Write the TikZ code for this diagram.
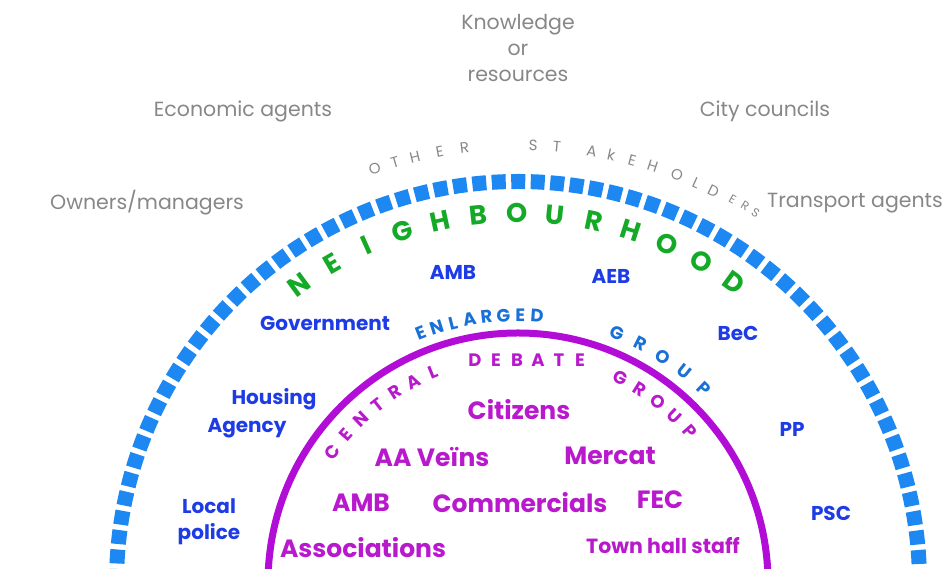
\documentclass[tikz,border=0pt]{standalone}
\usepackage{fontspec}
\setmainfont{Poppins}
\usetikzlibrary{calc}
\definecolor{ringblue}{RGB}{30,136,242}
\definecolor{actorblue}{RGB}{30,60,230}
\definecolor{groupblue}{RGB}{25,112,215}
\definecolor{nbhgreen}{RGB}{20,170,40}
\definecolor{debpurple}{RGB}{185,25,205}
\definecolor{ringpurple}{RGB}{178,12,215}
\definecolor{stakegrey}{RGB}{135,135,135}

\begin{document}
\begin{tikzpicture}[x=1pt,y=1pt,
  stake/.style={text=stakegrey,inner sep=0pt,font=\fontsize{20.5}{26}\selectfont},
  stake letter/.style={text=stakegrey,inner sep=0pt,font=\fontsize{15}{15}\selectfont},
  actor/.style={text=actorblue,inner sep=0pt,align=center,font=\fontsize{20}{26}\selectfont\bfseries},
  nbh letter/.style={text=nbhgreen,inner sep=0pt,font=\fontsize{27}{27}\selectfont\bfseries},
  group letter/.style={text=groupblue,inner sep=0pt,font=\fontsize{18}{18}\selectfont\bfseries},
  deb letter/.style={text=debpurple,inner sep=0pt,font=\fontsize{18}{18}\selectfont\bfseries},
  member/.style={text=debpurple,inner sep=0pt,font=\fontsize{25}{26}\selectfont\bfseries}]
\useasboundingbox (0,0) rectangle (945,569);
\coordinate (hub) at (518,-14);

%rings
\draw[ringblue,line width=15,dash pattern=on 14 off 5.5] (hub) ++(180:401.5) arc[start angle=180,end angle=0,radius=401.5];
\draw[ringpurple,line width=7] (hub) ++(180:250) arc[start angle=180,end angle=0,radius=250];

%other stakeholders
\node[stake,align=center] (know) at (518,521) {Knowledge\\or\\resources};
\node[stake] (econ) at (243,458) {Economic agents};
\node[stake] (city) at (765,458) {City councils};
\node[stake] (owners) at (147,366) {Owners/managers};
\node[stake] (transport) at (855,366) {Transport agents};
\foreach \ch/\ang [count=\i] in {O/109.1,T/106.3,H/103.6,E/100.3,R/97.0,S/88.0,T/84.9,A/80.3,k/77.7,E/74.9,H/72.1,O/68.7,L/66.0,D/63.5}
  \node[stake letter,rotate=\ang-90] (oth\i) at ($(hub)+(\ang:438)$) {\ch};
\foreach \ch/\ang [count=\i] in {E/60.8,R/58.9,S/57.3}
  \node[stake letter,font=\fontsize{12}{12}\selectfont,rotate=\ang-90] (ers\i) at ($(hub)+(\ang:440)$) {\ch};

%neighbourhood
\foreach \ch [count=\i from 0] in {N,E,I,G,H,B,O,U,R,H,O,O,D} {
  \pgfmathsetmacro\ang{126.2-6*\i}
  \node[nbh letter,rotate=\ang-90] (nbh\i) at ($(hub)+(\ang:370)$) {\ch};
}
\node[actor] (ambn) at (453,297) {AMB};
\node[actor] (aeb) at (611,293) {AEB};
\node[actor] (govt) at (325,246) {Government};
\node[actor] (bec) at (738,236) {BeC};
\node[actor] (housing) at (274,170) {Housing};
\node[actor] (agency) at (247,141) {Agency};
\node[actor] (police) at (209,47) {Local\\police};
\node[actor] (pp) at (792,140) {PP};
\node[actor] (psc) at (831,56) {PSC};

%enlarged group
\foreach \ch [count=\i from 0] in {E,N,L,A,R,G,E,D} {
  \pgfmathsetmacro\ang{111.3-3.63*\i}
  \node[group letter,rotate=\ang-90] (enl\i) at ($(hub)+(\ang:268)$) {\ch};
}
\foreach \ch [count=\i from 0] in {G,R,O,U,P} {
  \pgfmathsetmacro\ang{68.4-5.55*\i}
  \node[group letter,rotate=\ang-90] (egr\i) at ($(hub)+(\ang:269)$) {\ch};
}

%central debate group
\foreach \ch [count=\i from 0] in {C,E,N,T,R,A,L} {
  \pgfmathsetmacro\ang{144.7-5.47*\i}
  \node[deb letter,rotate=\ang-90] (cen\i) at ($(hub)+(\ang:227)$) {\ch};
}
\foreach \ch [count=\i from 0] in {D,E,B,A,T,E}
  \node[deb letter] (deb\i) at (475+21*\i,209) {\ch};
\foreach \ch [count=\i from 0] in {G,R,O,U,P} {
  \pgfmathsetmacro\ang{63.5-5.55*\i}
  \node[deb letter,rotate=\ang-90] (cgr\i) at ($(hub)+(\ang:229)$) {\ch};
}
\node[member] (citizens) at (519,159) {Citizens};
\node[member] (veins) at (432,112) {AA Veïns};
\node[member] (mercat) at (610,113) {Mercat};
\node[member] (ambc) at (361,66) {AMB};
\node[member] (commercials) at (520,66) {Commercials};
\node[member] (fec) at (660,69) {FEC};
\node[member] (assoc) at (363,21) {Associations};
\node[member,font=\fontsize{20.5}{22}\selectfont\bfseries] (townhall) at (663,23) {Town hall staff};
\end{tikzpicture}
\end{document}
